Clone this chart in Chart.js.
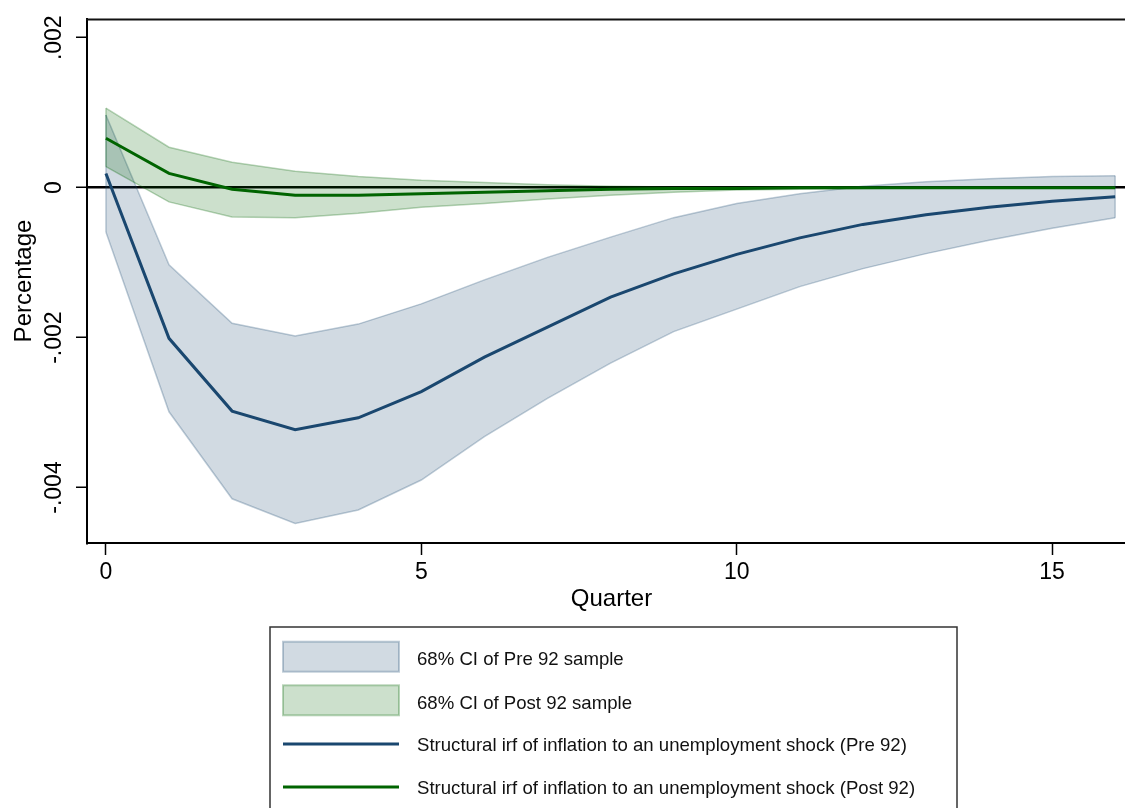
<!DOCTYPE html>
<html>
<head>
<meta charset="utf-8">
<script src="https://cdn.jsdelivr.net/npm/chart.js@4.4.1/dist/chart.umd.min.js"></script>
<style>
  html, body { margin: 0; padding: 0; background: #ffffff; overflow: hidden; }
  #wrap { width: 1136px; height: 808px; }
</style>
</head>
<body>
<div id="wrap"><canvas id="irf" width="1136" height="808"></canvas></div>
<script>
// Horizon in quarters
const quarters = [0, 1, 2, 3, 4, 5, 6, 7, 8, 9, 10, 11, 12, 13, 14, 15, 16];

// Pre-1992 sample: impulse response and 68% band
const pre92Irf   = [0.00019, -0.00201, -0.00298, -0.00323, -0.00307, -0.00272, -0.00226, -0.00186, -0.00146, -0.00115, -0.00089, -0.00067, -0.00049, -0.00036, -0.00026, -0.00018, -0.00012];
const pre92Upper = [0.00097, -0.00103, -0.00181, -0.00198, -0.00182, -0.00155, -0.00123, -0.00093, -0.00066, -0.00040, -0.00021, -0.00008, 0.00002, 0.00008, 0.00012, 0.00015, 0.00016];
const pre92Lower = [-0.00059, -0.00299, -0.00415, -0.00448, -0.00430, -0.00390, -0.00332, -0.00281, -0.00234, -0.00192, -0.00162, -0.00132, -0.00108, -0.00088, -0.00070, -0.00054, -0.00040];

// Post-1992 sample: impulse response and 68% band
const post92Irf   = [0.00066, 0.00019, -0.00002, -0.00010, -0.00010, -0.00008, -0.00006, -0.00004, -0.00002, -0.00001, -0.00001, 0, 0, 0, 0, 0, 0];
const post92Upper = [0.00106, 0.00054, 0.00034, 0.00022, 0.00015, 0.00010, 0.00007, 0.00004, 0.00002, 0.00001, 0.00001, 0, 0, 0, 0, 0, 0];
const post92Lower = [0.00028, -0.00019, -0.00039, -0.00040, -0.00034, -0.00026, -0.00021, -0.00015, -0.00010, -0.00006, -0.00003, -0.00002, -0.00001, 0, 0, 0, 0];

// Axis ticks
const xTickValues = [0, 5, 10, 15];
const xTickLabels = ['0', '5', '10', '15'];
const yTickValues = [0.002, 0, -0.002, -0.004];
const yTickLabels = ['.002', '0', '-.002', '-.004'];

// Legend entries
const legendLabels = [
  '68% CI of Pre 92 sample',
  '68% CI of Post 92 sample',
  'Structural irf of inflation to an unemployment shock (Pre 92)',
  'Structural irf of inflation to an unemployment shock (Post 92)'
];

const NAVY = 'rgb(26,71,111)';
const NAVY_FILL = 'rgba(26,71,111,0.2)';
const NAVY_EDGE = 'rgba(26,71,111,0.28)';
const GREEN = 'rgb(0,100,0)';
const GREEN_FILL = 'rgba(0,100,0,0.2)';
const GREEN_EDGE = 'rgba(0,100,0,0.28)';
const FONT = "'Liberation Sans', Helvetica, Arial, sans-serif";

const pts = arr => quarters.map((q, i) => ({ x: q, y: arr[i] }));

const datasets = [
  { label: legendLabels[0], data: pts(pre92Upper), borderColor: NAVY_EDGE, backgroundColor: NAVY_FILL, borderWidth: 1.5, fill: '+1', order: 3, band: 'pre' },
  { label: '', data: pts(pre92Lower), borderColor: NAVY_EDGE, backgroundColor: NAVY_FILL, borderWidth: 1.5, fill: false, order: 3, bandLower: 'pre' },
  { label: legendLabels[1], data: pts(post92Upper), borderColor: GREEN_EDGE, backgroundColor: GREEN_FILL, borderWidth: 1.5, fill: '+1', order: 2, band: 'post' },
  { label: '', data: pts(post92Lower), borderColor: GREEN_EDGE, backgroundColor: GREEN_FILL, borderWidth: 1.5, fill: false, order: 2, bandLower: 'post' },
  { label: legendLabels[2], data: pts(pre92Irf), borderColor: NAVY, borderWidth: 3, fill: false, order: 1 },
  { label: legendLabels[3], data: pts(post92Irf), borderColor: GREEN, borderWidth: 3, fill: false, order: 0 }
];

// Closes each band with short vertical edges at its first and last quarter
const bandEnds = {
  id: 'bandEnds',
  afterDatasetDraw(chart, args) {
    const ds = chart.data.datasets[args.index];
    if (!ds.bandLower) return;
    const upper = chart.getDatasetMeta(args.index - 1).data;
    const lower = args.meta.data;
    const ctx = chart.ctx;
    ctx.save();
    ctx.strokeStyle = ds.borderColor;
    ctx.lineWidth = 1.5;
    [0, lower.length - 1].forEach(i => {
      ctx.beginPath();
      ctx.moveTo(upper[i].x, upper[i].y);
      ctx.lineTo(lower[i].x, lower[i].y);
      ctx.stroke();
    });
    ctx.restore();
  }
};

// Top edge of the plot region
const plotFrame = {
  id: 'plotFrame',
  afterDraw(chart) {
    const { ctx, chartArea } = chart;
    ctx.save();
    ctx.strokeStyle = '#111';
    ctx.lineWidth = 2;
    ctx.beginPath();
    ctx.moveTo(chartArea.left - 1, chartArea.top + 0.5);
    ctx.lineTo(chartArea.right, chartArea.top + 0.5);
    ctx.stroke();
    ctx.restore();
  }
};

// Boxed legend below the plot, one entry per row
const boxLegend = {
  id: 'boxLegend',
  afterDraw(chart) {
    const ctx = chart.ctx;
    const box = { x: 270, y: 627, w: 687, h: 260 };
    ctx.save();
    ctx.strokeStyle = '#333';
    ctx.lineWidth = 1.5;
    ctx.strokeRect(box.x, box.y, box.w, box.h);

    const entries = chart.data.datasets.filter(d => d.label);
    const rows = [656.7, 700.3, 744, 787];
    const textRows = [660, 703.5, 746, 789];
    const swX = 283, swW = 116, swH = 30;
    ctx.font = '18.6px ' + FONT;
    ctx.fillStyle = '#111';
    ctx.textBaseline = 'middle';
    ctx.textAlign = 'left';
    entries.forEach((d, i) => {
      const cy = rows[i];
      if (d.band) {
        ctx.fillStyle = '#fff';
        ctx.fillRect(swX, cy - swH / 2, swW, swH);
        ctx.fillStyle = d.backgroundColor;
        ctx.fillRect(swX, cy - swH / 2, swW, swH);
        ctx.strokeStyle = d.borderColor;
        ctx.lineWidth = 2;
        ctx.strokeRect(swX, cy - swH / 2, swW, swH);
      } else {
        ctx.strokeStyle = d.borderColor;
        ctx.lineWidth = 3;
        ctx.beginPath();
        ctx.moveTo(swX, cy);
        ctx.lineTo(swX + swW, cy);
        ctx.stroke();
      }
      ctx.fillStyle = '#111';
      ctx.fillText(d.label, 417, textRows[i]);
    });
    ctx.restore();
  }
};

new Chart(document.getElementById('irf'), {
  type: 'line',
  data: { datasets },
  options: {
    responsive: false,
    animation: false,
    devicePixelRatio: 1,
    layout: { padding: { top: 19, left: 0, right: 0, bottom: 0 } },
    elements: { point: { radius: 0 }, line: { tension: 0 } },
    plugins: { legend: { display: false }, tooltip: { enabled: false } },
    scales: {
      x: {
        type: 'linear',
        min: -0.3,
        max: 16.33,
        afterBuildTicks: s => { s.ticks = xTickValues.map(v => ({ value: v })); },
        afterFit: s => { s.height = 265; },
        ticks: {
          autoSkip: false, maxRotation: 0, padding: 4, color: '#000',
          font: { family: FONT, size: 23 },
          callback: v => xTickLabels[xTickValues.indexOf(v)]
        },
        grid: { drawOnChartArea: false, tickLength: 12, tickColor: '#000', tickWidth: 1.5 },
        border: { color: '#000', width: 2 },
        title: { display: true, text: 'Quarter', color: '#000', font: { family: FONT, size: 24 }, padding: { top: 0, bottom: 194 } }
      },
      y: {
        type: 'linear',
        min: -0.00474,
        max: 0.00225,
        afterBuildTicks: s => { s.ticks = yTickValues.map(v => ({ value: v })); },
        afterFit: s => { s.width = 87; },
        ticks: {
          autoSkip: false, minRotation: 90, maxRotation: 90, crossAlign: 'center', padding: -5, color: '#000',
          font: { family: FONT, size: 23 },
          callback: v => yTickLabels[yTickValues.indexOf(v)]
        },
        grid: {
          drawOnChartArea: true,
          color: c => (c.tick && c.tick.value === 0) ? '#000' : 'rgba(0,0,0,0)',
          lineWidth: 2.5,
          tickLength: 11, tickColor: '#000', tickWidth: 1.5
        },
        border: { color: '#000', width: 2 },
        title: { display: true, text: 'Percentage', color: '#000', font: { family: FONT, size: 24 }, padding: { top: 10, bottom: 0 } }
      }
    }
  },
  plugins: [bandEnds, plotFrame, boxLegend]
});
</script>
</body>
</html>
